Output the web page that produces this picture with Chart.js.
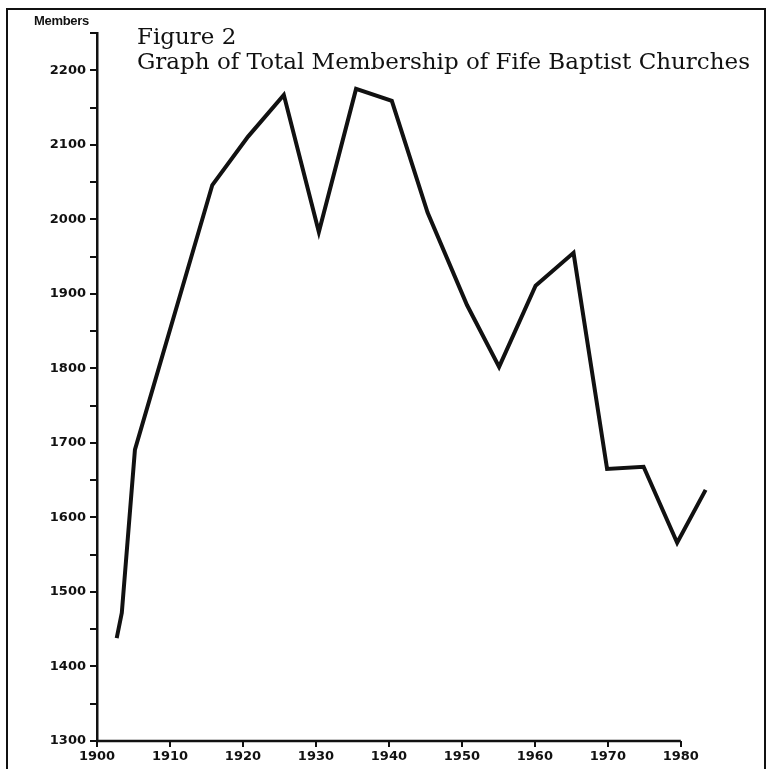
<!DOCTYPE html>
<html>
<head>
<meta charset="utf-8">
<script src="https://cdn.jsdelivr.net/npm/chart.js@4"></script>
<style>
  html, body { margin:0; padding:0; background:#fff; }
  #wrap { position:relative; width:768px; height:769px; overflow:hidden; }
  #frame { position:absolute; left:6px; top:8px; width:756px; height:780px;
           border-left:2.5px solid #111; border-top:2.5px solid #111; border-right:2px solid #111; }
  #members { position:absolute; left:34px; top:13px; font:bold 13px "Liberation Sans", sans-serif; color:#111; letter-spacing:-0.3px; }
  #title { position:absolute; left:137px; top:24px; font:23px "DejaVu Serif", serif; line-height:25px; color:#111; }
  canvas { position:absolute; left:0; top:0; }
</style>
</head>
<body>
<div id="wrap">
  <div id="frame"></div>
  <canvas id="chart" width="768" height="769"></canvas>
  <div id="members">Members</div>
  <div id="title">Figure 2<br>Graph of Total Membership of Fife Baptist Churches</div>
</div>
<script>
// years and total membership
const years   = [1902.7, 1903.4, 1905.2, 1915.8, 1920.7, 1925.6, 1930.4, 1935.5, 1940.4,
                 1945.3, 1950.7, 1955.1, 1960.1, 1965.3, 1969.9, 1974.9, 1979.5, 1983.4];
const members = [1438, 1472, 1691, 2046, 2111, 2167, 1983, 2175, 2159,
                 2009, 1885, 1802, 1911, 1955, 1665, 1668, 1566, 1637];
const xTicks = [1900, 1910, 1920, 1930, 1940, 1950, 1960, 1970, 1980];

const tickFont = { family: "DejaVu Sans", weight: "bold", size: 13 };

// x axis line only runs from first to last labelled year
const xAxisLine = {
  id: "xAxisLine",
  afterDraw(chart) {
    const x = chart.scales.x, y = chart.scales.y, ctx = chart.ctx;
    const yy = y.getPixelForValue(1300);
    ctx.save();
    ctx.strokeStyle = "#111";
    ctx.lineWidth = 2.5;
    ctx.beginPath();
    ctx.moveTo(x.getPixelForValue(xTicks[0]) - 1, yy);
    ctx.lineTo(x.getPixelForValue(xTicks[xTicks.length - 1]), yy);
    ctx.stroke();
    ctx.restore();
  }
};

new Chart(document.getElementById("chart").getContext("2d"), {
  type: "line",
  data: {
    datasets: [{
      data: years.map((yr, i) => ({ x: yr, y: members[i] })),
      borderColor: "#111",
      borderWidth: 4,
      pointRadius: 0,
      tension: 0,
      borderJoinStyle: "miter"
    }]
  },
  options: {
    responsive: false,
    animation: false,
    layout: { padding: { left: 0, top: 33, right: 58, bottom: 0 } },
    plugins: { legend: { display: false }, tooltip: { enabled: false } },
    scales: {
      x: {
        type: "linear", min: 1900, max: 1984,
        afterBuildTicks: s => { s.ticks = xTicks.map(v => ({ value: v })); },
        afterFit: s => { s.height = 28; },
        border: { display: false },
        grid: { drawOnChartArea: false, tickLength: 6, color: "#111", lineWidth: 2 },
        ticks: { font: tickFont, color: "#111", padding: 2, maxRotation: 0, autoSkip: false,
                 callback: v => String(v) }
      },
      y: {
        min: 1300, max: 2250,
        afterFit: s => { s.width = 97; },
        border: { display: true, color: "#111", width: 2.5 },
        grid: { drawOnChartArea: false, tickLength: 7, color: "#111", lineWidth: 2 },
        ticks: {
          stepSize: 50, autoSkip: false, font: tickFont, color: "#111", padding: 4,
          callback: v => (v % 100 === 0 ? String(v) : "")
        }
      }
    }
  },
  plugins: [xAxisLine]
});
</script>
</body>
</html>
